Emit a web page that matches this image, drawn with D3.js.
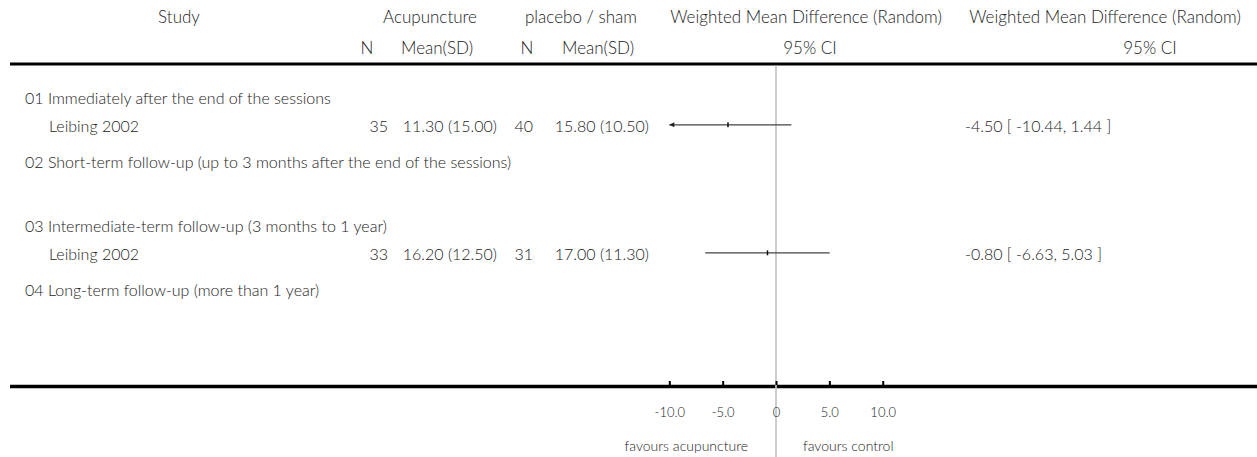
<!DOCTYPE html>
<html><head><meta charset="utf-8">
<script src="https://cdn.jsdelivr.net/npm/d3@7"></script>
<style>
body{margin:0;background:#fff;}
text{font-family:Lato,"Open Sans",sans-serif;font-size:16px;font-weight:300;fill:#222;}
.hd{font-size:17px;}
</style></head>
<body>
<svg id="c" width="1257" height="457"></svg>
<script>
// ---- data ----
const subgroups = [
  "01 Immediately after the end of the sessions",
  "02 Short-term follow-up (up to 3 months after the end of the sessions)",
  "03 Intermediate-term follow-up (3 months to 1 year)",
  "04 Long-term follow-up (more than 1 year)"
];
const studyNames = ["Leibing 2002", "Leibing 2002"];
const studyGroup = [0, 2];
const nTreat = [35, 33];
const meanSdTreat = ["11.30 (15.00)", "16.20 (12.50)"];
const nCtrl = [40, 31];
const meanSdCtrl = ["15.80 (10.50)", "17.00 (11.30)"];
const wmd = [-4.50, -0.80];
const ciLow = [-10.44, -6.63];
const ciHigh = [1.44, 5.03];
const axisTicks = [-10, -5, 0, 5, 10];
const headers1 = ["Study", "Acupuncture", "placebo / sham", "Weighted Mean Difference (Random)", "Weighted Mean Difference (Random)"];
const headers2 = ["N", "Mean(SD)", "N", "Mean(SD)", "95% CI", "95% CI"];
const favours = ["favours acupuncture", "favours control"];

// ---- layout ----
const svg = d3.select("#c");
const W = 1257, H = 457;
const x = d3.scaleLinear().domain([-10, 10]).range([669.3, 882.7]);
const slot = d3.scaleLinear().domain([0, 1]).range([98, 130]); // row slots (centres)
const topRule = 64, botRule = 386.5;
const studyOffset = 0.9;
const base = 5.5; // baseline offset from row centre
const hyph = s => s.replace(/\u2212/g, "-");

// header text
const h1x = [179, 430, 581, 806, 1105];
svg.selectAll(".h1").data(headers1).join("text").attr("class", "hd")
  .attr("x", (d, i) => h1x[i]).attr("y", 17 + base).attr("text-anchor", "middle").text(d => d);
const h2x = [367, 437, 527, 598, 810, 1150];
svg.selectAll(".h2").data(headers2).join("text").attr("class", "hd")
  .attr("x", (d, i) => h2x[i]).attr("y", 48 + base).attr("text-anchor", "middle").text(d => d);

// rules
svg.append("line").attr("x1", 10).attr("x2", W).attr("y1", topRule).attr("y2", topRule)
  .attr("stroke", "#000").attr("stroke-width", 3);
svg.append("line").attr("x1", 10).attr("x2", W).attr("y1", botRule).attr("y2", botRule)
  .attr("stroke", "#000").attr("stroke-width", 3.5);

// zero line
svg.append("line").attr("x1", x(0)).attr("x2", x(0)).attr("y1", topRule + 1.5).attr("y2", H)
  .attr("stroke", "#c4c4c4").attr("stroke-width", 1.7);

// subgroup headers
svg.selectAll(".sg").data(subgroups).join("text")
  .attr("x", 25).attr("y", (d, i) => slot(i * 2) + base).text(d => d);

// studies
const studies = studyNames.map((n, i) => ({
  name: n, g: studyGroup[i], n1: nTreat[i], m1: meanSdTreat[i], n2: nCtrl[i], m2: meanSdCtrl[i],
  est: wmd[i], lo: ciLow[i], hi: ciHigh[i]
}));
const sy = d => slot(d.g * 2 + studyOffset);
const fmt = v => hyph(d3.format(".2f")(v));

const rows = svg.selectAll(".st").data(studies).join("g");
rows.append("text").attr("x", 49).attr("y", d => sy(d) + base).text(d => d.name);
rows.append("text").attr("x", 388).attr("y", d => sy(d) + base).attr("text-anchor", "end").text(d => d.n1);
rows.append("text").attr("x", 497).attr("y", d => sy(d) + base).attr("text-anchor", "end").text(d => d.m1);
rows.append("text").attr("x", 533).attr("y", d => sy(d) + base).attr("text-anchor", "end").text(d => d.n2);
rows.append("text").attr("x", 649).attr("y", d => sy(d) + base).attr("text-anchor", "end").text(d => d.m2);
rows.append("text").attr("x", 965).attr("y", d => sy(d) + base)
  .text(d => `${fmt(d.est)} [ ${fmt(d.lo)}, ${fmt(d.hi)} ]`);

// CI lines (clipped to axis domain, arrow when clipped)
const [dmin, dmax] = x.domain();
const cy = d => sy(d) - 2;
rows.append("line")
  .attr("x1", d => x(Math.max(d.lo, dmin))).attr("x2", d => x(Math.min(d.hi, dmax)))
  .attr("y1", cy).attr("y2", cy).attr("stroke", "#444").attr("stroke-width", 1.3);
rows.filter(d => d.lo < dmin).append("path")
  .attr("d", d => `M${x(dmin)},${cy(d)} l5,-2.5 l0,5 z`).attr("fill", "#222");
rows.filter(d => d.hi > dmax).append("path")
  .attr("d", d => `M${x(dmax)},${cy(d)} l-5,-2.5 l0,5 z`).attr("fill", "#222");
rows.append("line")
  .attr("x1", d => x(d.est)).attr("x2", d => x(d.est))
  .attr("y1", d => cy(d) - 2.5).attr("y2", d => cy(d) + 2.5)
  .attr("stroke", "#111").attr("stroke-width", 1.5);

// axis ticks
const tickAxis = d3.axisTop(x).tickValues(axisTicks).tickSize(4).tickFormat("");
const gT = svg.append("g").attr("transform", `translate(0,${botRule - 1.5})`).call(tickAxis);
gT.select(".domain").remove();
gT.selectAll(".tick line").attr("stroke", "#000").attr("stroke-width", 2);

const labAxis = d3.axisBottom(x).tickValues(axisTicks).tickSize(0).tickPadding(21)
  .tickFormat(d => d === 0 ? "0" : hyph(d3.format(".1f")(d)));
const gL = svg.append("g").attr("transform", `translate(0,${botRule})`).call(labAxis);
gL.select(".domain").remove();
gL.selectAll("text").attr("font-family", null).attr("font-size", null).attr("fill", null)
  .style("font-size", "13px");

// favours labels
svg.append("text").attr("x", 748).attr("y", 451).attr("text-anchor", "end").text(favours[0]).style("font-size", "14px");
svg.append("text").attr("x", 803).attr("y", 451).attr("text-anchor", "start").text(favours[1]).style("font-size", "14px");
</script>
</body></html>
